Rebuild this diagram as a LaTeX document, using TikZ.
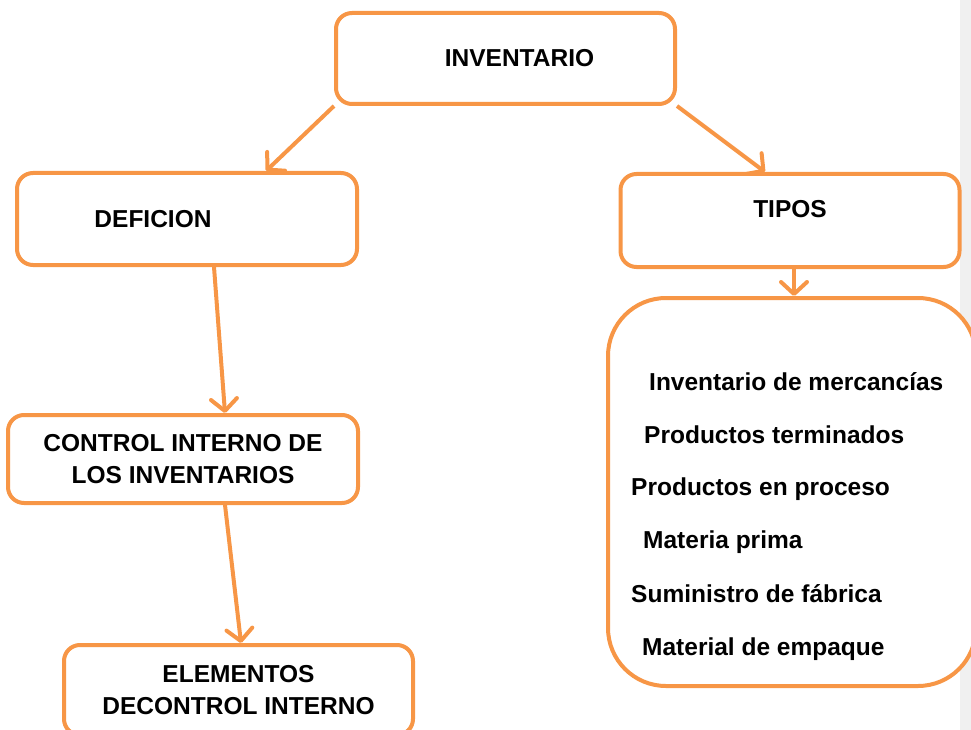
\documentclass[tikz,border=0pt]{standalone}
\usepackage{fontspec}
\setmainfont{Liberation Sans}
\usetikzlibrary{arrows.meta,positioning}
\definecolor{naranja}{HTML}{F79646}
\definecolor{gris}{HTML}{F0F0F0}

\begin{document}
\begin{tikzpicture}[
  x=1pt, y=-1pt,
  font=\bfseries\fontsize{24.5}{32}\selectfont,
  box/.style={draw=naranja, line width=4pt, rounded corners=16pt, fill=white, align=center, inner sep=0pt},
  item/.style={anchor=base west, inner sep=0pt},
  arr/.style={draw=naranja, line width=4pt, -{Straight Barb[length=12pt,width=26pt,round]}}
]
\useasboundingbox (0,0) rectangle (971,730);
\clip (0,0) rectangle (971,730);
\fill[gris] (960,0) rectangle (971,730);

\node[box, minimum width=339pt, minimum height=91pt] (inv) at (505.5,58.5) {\hspace*{28pt}INVENTARIO};
\node[box, minimum width=340pt, minimum height=92pt] (def) at (187,219) {DEFICION\hspace*{68pt}};
\node[box, minimum width=339pt, minimum height=93pt] (tip) at (790,220.5) {\raisebox{24pt}{TIPOS}};
\node[box, minimum width=350pt, minimum height=88pt] (ctl) at (183,459) {CONTROL INTERNO DE\\LOS INVENTARIOS};
\node[box, minimum width=349pt, minimum height=90pt] (ele) at (238.5,690) {ELEMENTOS\\DECONTROL INTERNO};
\node[box, rounded corners=58pt, minimum width=368pt, minimum height=388pt] (lst) at (792,492) {};

% tipos de inventario
\foreach \x/\y/\txt in {649/390/Inventario de mercancías,
                        644/443/Productos terminados,
                        631/495/Productos en proceso,
                        643/548/Materia prima,
                        631/602/Suministro de fábrica,
                        642/655/Material de empaque}
  \node[item] at (\x,\y) {\txt};

\draw[arr] (inv.south west) -- ([xshift=79pt]def.north);
\draw[arr] (inv.south east) -- ([xshift=-25pt]tip.north);
\draw[arr] ([xshift=4pt]tip.south) -- ([xshift=2pt]lst.north);
\draw[arr] ([xshift=27pt]def.south) -- ([xshift=42pt]ctl.north);
\draw[arr] ([xshift=42pt]ctl.south) -- ([xshift=2.5pt]ele.north);
\end{tikzpicture}
\end{document}
